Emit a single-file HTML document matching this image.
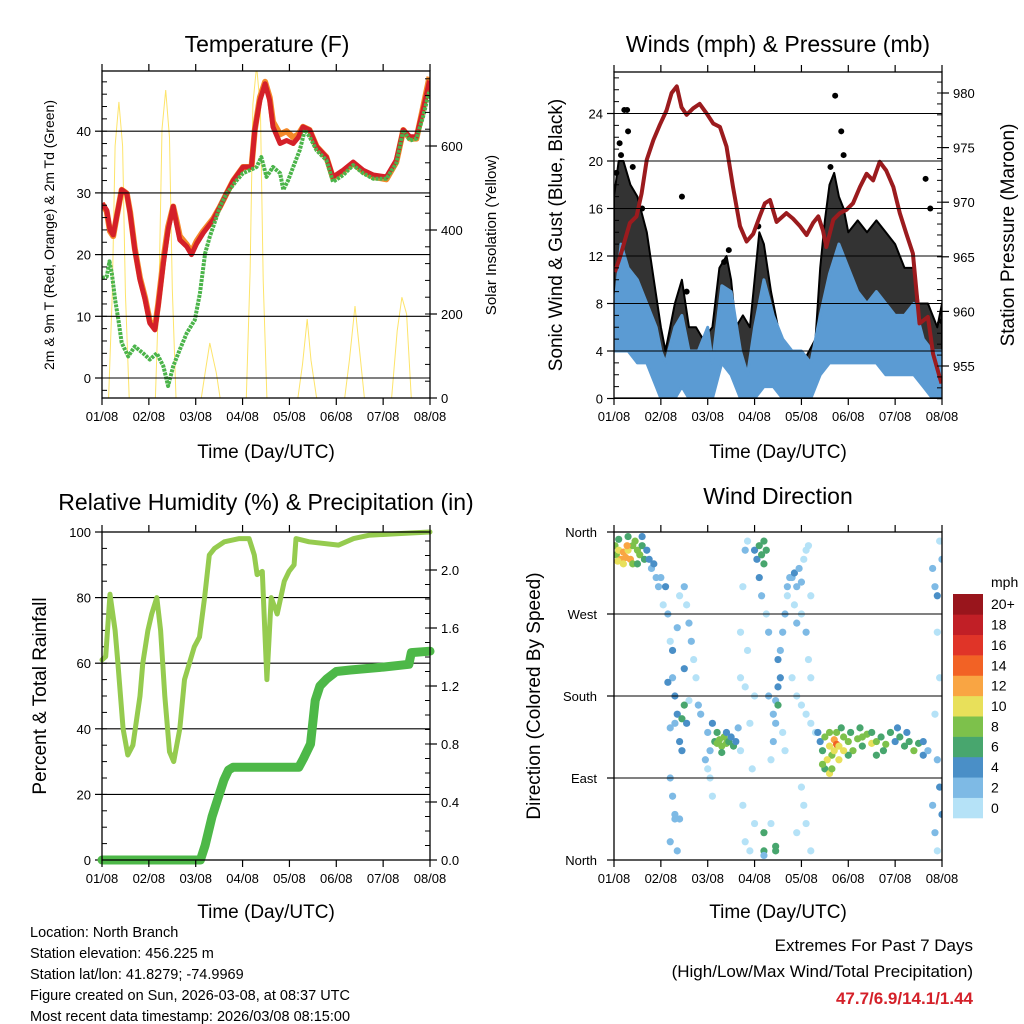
<!DOCTYPE html>
<html><head><meta charset="utf-8">
<style>
html,body{margin:0;padding:0;background:#fff;}
svg{display:block;font-family:"Liberation Sans",Arial,sans-serif;}
</style></head>
<body>
<svg id="chart" width="1024" height="1024" viewBox="0 0 1024 1024" xmlns="http://www.w3.org/2000/svg">
<rect x="0" y="0" width="1024" height="1024" fill="#fff"/>
</svg>
<script>
// ---------- DATA ----------
// Temperature panel
const tempRedT=[0,0.10,0.17,0.24,0.31,0.42,0.53,0.60,0.70,0.81,0.92,1.02,1.13,1.20,1.31,1.41,1.52,1.59,1.66,1.81,1.91,2.02,2.16,2.37,2.52,2.66,2.80,3.01,3.19,3.26,3.37,3.48,3.58,3.65,3.80,3.94,4.08,4.19,4.29,4.43,4.58,4.79,4.93,5.15,5.36,5.57,5.79,6.07,6.28,6.43,6.57,6.71,6.85,6.99];
const tempRedV=[28.3,27.2,24,23.2,26,30.5,29.9,26.7,20.8,15.9,12.7,8.9,7.8,11.6,18.6,24,27.8,25,22.4,21.3,20,21.8,23.5,25.6,27.8,29.9,32,34.2,34.2,40.2,45,47.7,45,40.7,38,38.5,38,39,40.7,40.2,37.5,35.8,32.6,33.7,35,33.7,32.9,32.6,35.3,40.2,39.1,39.1,43.4,48.2];
const tempOrangeV=[28.3,27.0,23.8,23.0,26.0,30.5,29.9,26.9,21.0,16.2,13.0,9.2,8.1,12.0,19.2,24.5,27.8,25.5,23.0,21.6,20.4,22.2,23.8,25.8,27.8,29.9,32,34.2,34.2,40.2,45.5,48.0,45.5,41.5,39.5,40.0,39.0,39.5,40.7,40.2,37.5,35.8,32.4,33.5,34.8,33.5,32.6,32.2,35.0,40.2,38.8,38.8,43.8,48.8];
const tempGreenT=[0,0.10,0.16,0.21,0.28,0.35,0.42,0.56,0.70,0.88,1.02,1.17,1.31,1.41,1.52,1.66,1.81,1.98,2.09,2.20,2.30,2.52,2.66,2.87,3.01,3.16,3.30,3.40,3.51,3.65,3.80,3.87,3.97,4.08,4.22,4.33,4.43,4.58,4.79,4.93,5.15,5.36,5.57,5.79,6.07,6.28,6.43,6.57,6.71,6.85,6.99];
const tempGreenV=[16.2,16.4,18.9,17,12.7,9.4,5.7,3.5,5.1,4,3,4,1.9,-1.3,1.9,4.6,7.3,9.4,13.7,20.2,22.9,27.8,29.9,32,33.2,33.7,34.2,35.8,32.6,34.2,33.2,30.5,32,34.2,36.9,40.2,39.1,36.9,35.3,31.8,32.9,34.5,33.2,32.3,32.3,34.8,40.2,38.5,38.8,42.3,46.6];
const solarT=[[0.14,0.22,0.28,0.36,0.44,0.50,0.58],[1.14,1.22,1.28,1.36,1.44,1.50,1.58],[2.12,2.20,2.30,2.38,2.44,2.52],[3.08,3.16,3.22,3.30,3.38,3.44,3.52],[4.18,4.28,4.38,4.46,4.58],[5.18,5.28,5.40,5.50,5.60],[6.18,6.30,6.40,6.50,6.60]];
const solarV=[[0,250,600,705,600,250,0],[0,280,640,733,620,260,0],[0,60,131,90,60,0],[0,300,700,790,690,280,0],[0,80,188,90,0],[0,90,219,110,0],[0,160,240,200,0]];
const tempTicks=[0,10,20,30,40];
const solarTicks=[0,200,400,600];
const dayLabels=["01/08","02/08","03/08","04/08","05/08","06/08","07/08","08/08"];
// Winds panel
const presT=[0.02,0.13,0.34,0.48,0.59,0.70,0.84,0.98,1.12,1.23,1.34,1.44,1.55,1.69,1.83,1.98,2.12,2.26,2.40,2.54,2.69,2.83,2.97,3.11,3.22,3.33,3.47,3.68,3.82,3.97,4.11,4.25,4.36,4.46,4.53,4.68,4.82,4.96,5.10,5.25,5.39,5.53,5.67,5.81,5.96,6.10,6.24,6.38,6.52,6.70,6.81,6.99];
const presV=[963.6,965.0,968.1,968.7,970.8,973.9,975.7,977.1,978.4,980.0,980.6,978.7,978.0,978.6,979.0,978.1,977.2,976.9,975.1,971.4,967.8,966.4,967.1,968.7,969.9,970.2,968.2,969.0,968.5,967.8,967.0,968.1,968.7,967.4,965.9,968.4,969.0,969.3,969.9,971.4,972.6,972.0,973.7,972.9,971.4,969.0,967.1,965.3,958.9,959.5,956.1,953.4];
const windT=[0,0.15,0.3,0.5,0.7,0.9,1.0,1.1,1.3,1.45,1.6,1.8,2.0,2.1,2.3,2.5,2.7,2.85,3.0,3.2,3.4,3.6,3.8,4.0,4.2,4.4,4.6,4.8,5.0,5.2,5.4,5.6,5.8,6.0,6.2,6.4,6.6,6.8,7.0];
const windMax=[7,13,11,10,8,6,4,3,6,7,4,4,6,3,9.5,9,4,2,6,10,7,5,4,4,3,7,10.5,13,11,9,8,9,8,7,7,8,5,4,4];
const windMin=[4,4,4,3,3,1,0,0,0,1,0,0,0,0,3,2,0,0,0,1,1,0,0,0,0,2,3,3,3,3,3,3,2,2,2,2,1,0,0];
const gustT=[0,0.1,0.2,0.35,0.5,0.7,0.85,1.0,1.1,1.3,1.45,1.6,1.75,1.9,2.1,2.25,2.4,2.5,2.6,2.75,2.9,3.0,3.1,3.2,3.35,3.5,3.7,3.9,4.1,4.3,4.4,4.5,4.6,4.7,4.8,4.9,5.0,5.2,5.4,5.6,5.8,6.0,6.2,6.4,6.5,6.7,6.9,7.0];
const gustMax=[17,20,20,18,17,14,10,6,4,8,10,6,6,5,6,11,12,10,6,7,6,10,14,13,9,6,3.5,3.5,3.5,5,11,15,18,19,17,16,14,15,14,15,14,13,11,11,8,8,6,8];
const gustDotT=[0.22,0.28,0.30,0.15,0.05,0.12,0.40,1.45,2.35,2.45,3.08,4.72,4.85,4.90,4.62,6.65,6.75,7.0,1.55,0.6];
const gustDotV=[24.3,24.3,22.5,20.5,19,21.5,19.5,17,11.5,12.5,14.5,25.5,22.5,20.5,19.5,18.5,16,6.5,9,16];
const windTicks=[0,4,8,12,16,20,24];
const presTicks=[955,960,965,970,975,980];
// RH panel
const rhT=[0,0.08,0.17,0.28,0.34,0.45,0.55,0.66,0.81,0.87,0.98,1.06,1.17,1.25,1.34,1.44,1.53,1.66,1.76,1.97,2.08,2.19,2.29,2.40,2.61,2.93,3.14,3.25,3.31,3.42,3.46,3.52,3.61,3.74,3.89,3.99,4.10,4.14,4.42,5.05,5.37,5.69,6.33,7.0];
const rhV=[61,62,81,70,60,40,32,35,50,60,70,75,80,70,50,33,30,40,55,65,68,80,93,95,97,98,98,93,87,88,75,55,80,75,85,88,90,98,97,96,98,99,99.5,100];
const precipT=[0,2.1,2.2,2.35,2.5,2.6,2.7,2.8,4.2,4.3,4.45,4.55,4.65,4.8,5.0,5.3,6.0,6.55,6.6,7.0];
const precipV=[0,0,0.1,0.3,0.45,0.55,0.62,0.64,0.64,0.7,0.8,1.1,1.2,1.25,1.3,1.31,1.33,1.35,1.43,1.44];
const rhTicks=[0,20,40,60,80,100];
const precipTicks=[0.0,0.4,0.8,1.2,1.6,2.0];
// Wind direction panel
const dirT=[0.02,0.05,0.1,0.15,0.2,0.25,0.3,0.35,0.4,0.45,0.5,0.55,0.6,0.65,0.7,0.75,0.8,0.1,0.3,0.2,0.4,0.85,0.9,0.95,0.5,0.6,0.08,0.28,
1.0,1.05,1.1,1.15,1.2,1.25,1.3,1.3,1.35,1.4,1.45,1.2,1.15,1.25,1.35,1.4,1.5,1.55,1.6,1.65,1.7,1.75,1.8,1.85,1.5,1.55,1.6,1.2,1.25,1.3,1.2,1.35,1.45,1.5,
2.0,2.05,2.1,2.15,2.2,2.25,2.3,2.35,2.4,2.45,2.5,2.55,2.2,2.3,2.4,2.0,2.05,1.95,2.6,2.65,
2.7,2.75,2.8,2.75,2.8,2.85,2.9,2.7,2.8,2.9,2.95,2.7,2.85,3.0,3.0,
3.0,3.05,3.1,3.15,3.2,3.2,3.25,3.1,3.15,3.2,3.2,3.3,3.25,3.3,
3.4,3.45,3.5,3.55,3.5,3.45,3.4,3.35,3.55,3.6,3.65,3.7,3.75,3.6,3.65,3.5,
3.7,3.8,3.85,3.9,3.95,4.0,4.05,4.1,4.15,4.2,4.0,4.1,4.15,4.2,3.85,3.9,3.8,3.9,4.0,4.1,4.2,4.3,4.0,4.05,4.1,3.9,4.2,
4.35,4.4,4.45,4.5,4.5,4.6,4.65,4.6,4.7,4.7,4.75,4.8,4.75,4.8,4.9,4.85,5.0,5.05,5.1,5.2,5.25,5.3,5.4,5.5,5.6,5.6,5.7,5.8,5.9,6.0,6.1,6.2,6.3,6.4,6.5,6.6,6.6,6.7,5.0,5.3,5.5,5.75,6.05,6.25,4.55,4.45,4.9,4.6,4.65,
6.8,6.85,6.9,6.95,7.0,6.9,6.95,6.85,6.9,6.95,6.8,7.0,6.85,6.9,
1.3,2.1,3.35,3.45,3.45,3.2,1.4];
const dirV=[345,335,340,330,338,332,340,330,345,350,340,335,345,330,340,330,320,352,355,325,325,325,310,300,325,355,328,345,
310,280,300,270,240,200,180,150,160,130,155,145,195,230,255,290,300,280,260,240,220,200,170,160,210,150,175,90,70,45,20,10,120,170,
140,120,150,130,128,132,125,135,128,130,135,125,140,118,140,100,90,110,130,145,
120,60,20,300,340,350,10,200,190,150,100,250,230,180,40,
340,330,345,335,350,325,340,310,290,30,10,250,270,180,
160,175,190,200,220,150,130,110,230,250,270,290,310,140,120,170,
300,310,315,300,320,305,330,340,345,290,270,250,220,200,280,260,200,180,170,160,150,140,80,60,40,30,10,
140,130,120,100,135,125,115,140,132,120,127,125,140,110,135,145,130,140,120,133,145,125,138,128,130,115,135,127,140,130,135,125,130,120,128,115,130,120,115,135,140,120,145,140,110,105,120,95,100,
320,300,290,350,330,250,200,160,110,80,60,50,30,10,
50,70,40,15,10,5,45];
const dirS=[8,8,10,12,12,12,10,12,8,8,8,8,6,6,4,4,2,6,6,10,8,4,2,2,6,4,10,12,
2,0,4,2,0,2,4,2,4,4,6,2,4,4,2,0,2,0,2,2,0,0,2,2,4,4,0,2,2,2,2,2,4,6,
2,2,4,6,8,8,8,8,8,6,4,6,6,6,4,0,0,2,4,2,
0,0,0,0,2,0,0,0,0,0,0,0,0,0,0,
4,4,6,6,6,6,6,4,2,6,6,2,0,2,
2,2,4,4,4,2,2,0,2,2,2,0,2,0,0,6,
2,2,4,2,2,2,0,0,0,0,0,2,0,0,0,2,0,0,0,0,0,0,0,0,0,0,0,
4,4,6,6,8,10,8,8,12,10,14,10,8,10,8,6,8,6,8,8,6,6,8,10,8,6,6,8,6,4,6,6,6,8,6,4,4,2,6,8,6,6,4,4,10,8,10,10,8,
2,2,4,0,2,0,0,0,2,4,2,4,2,0,
2,0,0,6,6,2,2];
const dirTickLabels=["North","East","South","West","North"];
const speedBins=["0","2","4","6","8","10","12","14","16","18","20+"];
const speedColors=["#b5e2f7","#7ebae5","#4a8fc7","#48a66e","#7dc14b","#e8e05a","#f9a543","#f26225","#e03428","#c11f26","#99151c"];

// ---------- DRAWING ----------
const svg=document.getElementById('chart');
const NS='http://www.w3.org/2000/svg';
function el(tag,attrs,parent){const e=document.createElementNS(NS,tag);for(const k in attrs)e.setAttribute(k,attrs[k]);(parent||svg).appendChild(e);return e;}
function txt(s,x,y,size,anchor,parent,extra){const t=el('text',Object.assign({x:x,y:y,'font-size':size,'text-anchor':anchor||'middle',fill:'#000'},extra||{}),parent);t.textContent=s;return t;}
function lin(d0,d1,r0,r1){return v=>r0+(v-d0)/(d1-d0)*(r1-r0);}
function pathD(xs,ys,fx,fy){return xs.map((t,i)=>(i?'L':'M')+fx(t).toFixed(1)+','+fy(ys[i]).toFixed(1)).join('');}

let clipN=0;
function panel(name,L,T,R,B){
  const g=el('g',{});
  
  
  const id='clip'+(clipN++);
  const cp=el('clipPath',{id:id},g);el('rect',{x:L,y:T,width:R-L,height:B-T},cp);
  const inner=el('g',{'clip-path':'url(#'+id+')'},g);
  return {g,inner};
}
function frame(g,L,T,R,B){el('rect',{x:L,y:T,width:R-L,height:B-T,fill:'none',stroke:'#000','stroke-width':1.3},g);}
function xAxis(g,L,T,R,B,label,ly){
  const fx=lin(0,7,L,R);
  const ax=el('g',{},g);
  
  
  for(let d=0;d<=7;d++){
    const x=fx(d);
    el('line',{x1:x,y1:B,x2:x,y2:B+7,stroke:'#000','stroke-width':1.2},ax);
    el('line',{x1:x,y1:T,x2:x,y2:T-7,stroke:'#000','stroke-width':1.2},ax);
    const t=txt(dayLabels[d],x,B+23,13,'middle',ax);
    
    
  }
  const at=txt(label,(L+R)/2,ly,19,'middle',ax);
  
  
}
function vtitle(s,x,y,size,g,name){const t=txt(s,x,y,size,'middle',g,{transform:'rotate(-90 '+x+' '+y+')'});return t;}
function title(s,x,y,g){const t=txt(s,x,y,23,'middle',g);}
function leftTicks(g,ticks,fy,L,R,fmt,grid,minorStep,d0,d1){
  if(minorStep){for(let v=d0;v<=d1+1e-9;v+=minorStep){const y=fy(v);el('line',{x1:L,y1:y,x2:L+5,y2:y,stroke:'#000','stroke-width':1},g);}}
  ticks.forEach(v=>{const y=fy(v);
    if(grid)el('line',{x1:L,y1:y,x2:R,y2:y,stroke:'#000','stroke-width':1.1},g);
    el('line',{x1:L-7,y1:y,x2:L,y2:y,stroke:'#000','stroke-width':1.2},g);
    const t=txt(fmt(v),L-11,y+5,13,'end',g);});
}
function rightTicks(g,ticks,fy,R,fmt,minorStep,d0,d1){
  if(minorStep){for(let v=d0;v<=d1+1e-9;v+=minorStep){const y=fy(v);el('line',{x1:R-5,y1:y,x2:R,y2:y,stroke:'#000','stroke-width':1},g);}}
  ticks.forEach(v=>{const y=fy(v);
    el('line',{x1:R,y1:y,x2:R+7,y2:y,stroke:'#000','stroke-width':1.2},g);
    const t=txt(fmt(v),R+11,y+5,13,'start',g);});
}

// ===== Panel 1: Temperature =====
(function(){
  const L=102,T=71,R=430,B=398;
  const {g,inner}=panel('temperature-panel',L,T,R,B);
  const fx=lin(0,7,L,R), fy=lin(0,10,378,316.3), fs=lin(0,200,398,314);
  leftTicks(g,tempTicks,fy,L,R,v=>String(v),true,2,-2,48);
  rightTicks(g,solarTicks,fs,R,v=>String(v),40,0,760);
  solarT.forEach((ts,i)=>{const p=el('path',{d:pathD(ts,solarV[i],fx,fs),fill:'none',stroke:'#fde46a','stroke-width':1},inner);
    });
  let p=el('path',{d:pathD(tempRedT,tempOrangeV,fx,fy),fill:'none',stroke:'#f58a2a','stroke-width':6,'stroke-linejoin':'round'},inner);
  
  p=el('path',{d:pathD(tempRedT,tempRedV,fx,fy),fill:'none',stroke:'#d42029','stroke-width':5,'stroke-linejoin':'round'},inner);
  
  p=el('path',{d:pathD(tempGreenT,tempGreenV,fx,fy),fill:'none',stroke:'#4bb44a','stroke-width':4,'stroke-dasharray':'3 1','stroke-linejoin':'round'},inner);
  
  frame(g,L,T,R,B);
  xAxis(g,L,T,R,B,'Time (Day/UTC)',458);
  title('Temperature (F)',267,52,g);
  vtitle('2m & 9m T (Red, Orange) & 2m Td (Green)',54,235,14,g,'y-axis-title');
  vtitle('Solar Insolation (Yellow)',496,235,15,g,'y2-axis-title');
})();

// ===== Panel 2: Winds & Pressure =====
(function(){
  const L=614,T=72,R=942,B=398;
  const {g,inner}=panel('winds-panel',L,T,R,B);
  const fx=lin(0,7,L,R), fy=lin(0,4,398.5,351), fp=lin(955,980,366,93);
  leftTicks(g,windTicks,fy,L,R,v=>String(v),true,1,0,27);
  rightTicks(g,presTicks,fp,R,v=>String(v),1,952,981);
  const gd=pathD(gustT,gustMax,fx,fy)+'L'+[...windT].reverse().map((t,i)=>fx(t).toFixed(1)+','+fy(windMax[windT.length-1-i]).toFixed(1)).join('L')+'Z';
  let p=el('path',{d:gd,fill:'#000','fill-opacity':0.8,stroke:'#000','stroke-width':2,'stroke-linejoin':'round'},inner);
  
  gustDotT.forEach((t,i)=>{const c=el('circle',{cx:fx(t),cy:fy(gustDotV[i]),r:3,fill:'#000'},inner);
    });
  const wd=pathD(windT,windMax,fx,fy)+'L'+[...windT].reverse().map((t,i)=>fx(t).toFixed(1)+','+fy(windMin[windT.length-1-i]).toFixed(1)).join('L')+'Z';
  p=el('path',{d:wd,fill:'#5b9bd3',stroke:'#5b9bd3','stroke-width':3,'stroke-linejoin':'round'},inner);
  
  p=el('path',{d:pathD(presT,presV,fx,fp),fill:'none',stroke:'#9b1b1e','stroke-width':4,'stroke-linejoin':'round'},inner);
  
  frame(g,L,T,R,B);
  xAxis(g,L,T,R,B,'Time (Day/UTC)',458);
  title('Winds (mph) & Pressure (mb)',778,52,g);
  vtitle('Sonic Wind & Gust (Blue, Black)',562,235,19,g,'y-axis-title');
  vtitle('Station Pressure (Maroon)',1014,235,19,g,'y2-axis-title');
})();

// ===== Panel 3: RH & Precip =====
(function(){
  const L=102,T=532,R=430,B=860;
  const {g,inner}=panel('humidity-panel',L,T,R,B);
  const fx=lin(0,7,L,R), fy=lin(0,100,860,532), fp=lin(0,0.4,860,802);
  leftTicks(g,rhTicks,fy,L,R,v=>String(v),true,5,0,100);
  rightTicks(g,precipTicks,fp,R,v=>v.toFixed(1),0.1,0,2.2);
  let p=el('path',{d:pathD(precipT,precipV,fx,fp),fill:'none',stroke:'#4db848','stroke-width':9,'stroke-linejoin':'round','stroke-linecap':'round'},g);
  
  p=el('path',{d:pathD(rhT,rhV,fx,fy),fill:'none',stroke:'#95cb4f','stroke-width':5,'stroke-linejoin':'round','stroke-linecap':'round'},g);
  
  frame(g,L,T,R,B);
  xAxis(g,L,T,R,B,'Time (Day/UTC)',918);
  title('Relative Humidity (%) & Precipitation (in)',266,510,g);
  vtitle('Percent & Total Rainfall',46,696,19,g,'y-axis-title');
})();

// ===== Panel 4: Wind direction =====
(function(){
  const L=614,T=532,R=942,B=860;
  const {g,inner}=panel('wind-direction-panel',L,T,R,B);
  const fx=lin(0,7,L,R), fy=lin(0,360,860,532);
  dirTickLabels.forEach((s,i)=>{const y=fy(i*90);
    if(i>0&&i<4)el('line',{x1:L,y1:y,x2:R,y2:y,stroke:'#000','stroke-width':1.1},g);
    el('line',{x1:L-7,y1:y,x2:L,y2:y,stroke:'#000','stroke-width':1.2},g);
    const t=txt(s,L-17,y+5,13,'end',g);});
  const binIdx=s=>Math.min(10,Math.max(0,Math.round(s/2)));
  dirT.forEach((t,i)=>{const c=el('circle',{cx:fx(t),cy:fy(dirV[i]),r:3.6,fill:speedColors[binIdx(dirS[i])]},inner);
    });
  frame(g,L,T,R,B);
  xAxis(g,L,T,R,B,'Time (Day/UTC)',918);
  title('Wind Direction',778,504,g);
  vtitle('Direction (Colored By Speed)',540,696,19,g,'y-axis-title');
  const cb=el('g',{},g);
  
  
  const bh=(818-594)/11;
  speedBins.forEach((s,i)=>{const y=818-(i+1)*bh;
    const r=el('rect',{x:953,y:y,width:30,height:bh+0.3,fill:speedColors[i]},cb);
    
    const t=txt(s,991,y+bh/2+5,14,'start',cb);});
  const m=txt('mph',991,587,14,'start',cb);
})();

// ===== Footer text =====
(function(){
  const g=el('g',{});
  
  
  ["Location: North Branch","Station elevation: 456.225 m","Station lat/lon: 41.8279; -74.9969","Figure created on Sun, 2026-03-08, at 08:37 UTC","Most recent data timestamp: 2026/03/08 08:15:00"].forEach((s,i)=>{
    const t=txt(s,30,937+i*21,14.5,'start',g);});
  const e=el('g',{});
  
  
  let t=txt('Extremes For Past 7 Days',973,951,17,'end',e);
  t=txt('(High/Low/Max Wind/Total Precipitation)',973,977,17,'end',e);
  t=txt('47.7/6.9/14.1/1.44',973,1004,17,'end',e,{fill:'#d42029','font-weight':'bold'});
})();
</script>
</body></html>
